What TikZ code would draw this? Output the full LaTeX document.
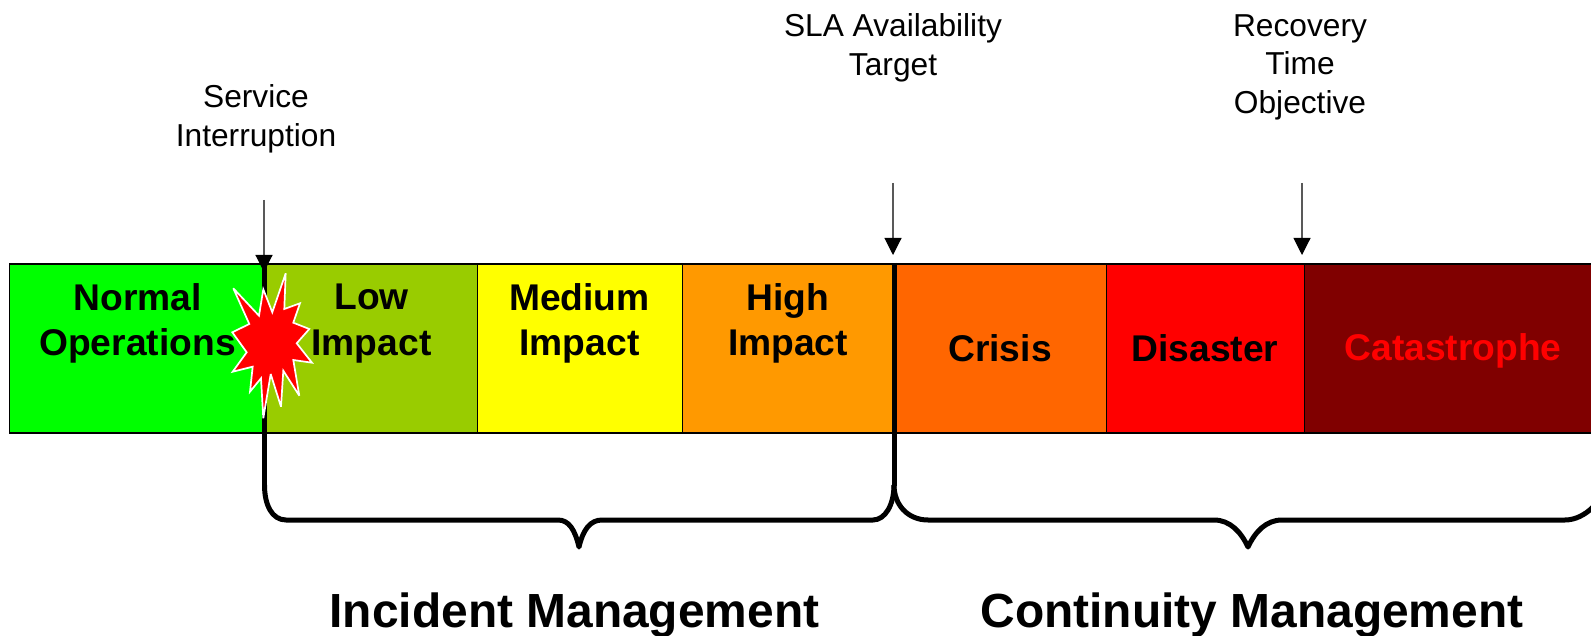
\documentclass[tikz,border=0pt]{standalone}
\usepackage{fontspec}
\setmainfont{Liberation Sans}
\usetikzlibrary{arrows.meta}
\definecolor{cGreen}{RGB}{0,255,0}
\definecolor{cLow}{RGB}{153,204,0}
\definecolor{cMed}{RGB}{255,255,0}
\definecolor{cHigh}{RGB}{255,153,0}
\definecolor{cCrisis}{RGB}{255,102,0}
\definecolor{cDis}{RGB}{255,0,0}
\definecolor{cCat}{RGB}{128,0,0}
\tikzset{
  seg/.style={draw=black,line width=1.8pt,anchor=north west,inner sep=0pt,minimum height=169pt,align=center,
    font=\fontsize{37.2}{45.6}\selectfont\bfseries},
  small/.style={align=center,inner sep=0pt,font=\fontsize{31.7}{38.6}\selectfont},
  title/.style={inner sep=0pt,font=\fontsize{47.9}{56}\selectfont\bfseries},
  pointer/.style={draw=black!65,line width=1.1pt,-{Triangle[length=17pt,width=17pt,black]}},
  thickbar/.style={line width=5pt,black},
  bracel/.style={line width=5pt,black,line join=round}
}
\begin{document}
\begin{tikzpicture}[x=1pt,y=-1pt]
\useasboundingbox (0,0) rectangle (1591,636);
\node[seg,fill=cGreen,minimum width=255pt] (normal) at (8.5,263) {};
\node[seg,fill=cLow,minimum width=213pt] (low) at (263.5,263) {};
\node[seg,fill=cMed,minimum width=205pt] (medium) at (476.5,263) {};
\node[seg,fill=cHigh,minimum width=212pt] (high) at (681.5,263) {};
\node[seg,fill=cCrisis,minimum width=212pt] (crisis) at (893.5,263) {};
\node[seg,fill=cDis,minimum width=198pt] (disaster) at (1105.5,263) {};
\node[seg,fill=cCat,minimum width=300pt] (cat) at (1303.5,263) {};
\node[seg,draw=none,anchor=center,minimum height=0pt] (tNormal) at (137.5,323.5) {Normal\\Operations};
\node[seg,draw=none,anchor=center,minimum height=0pt] (tLow) at (371.5,323.5) {Low\\Impact};
\node[seg,draw=none,anchor=center,minimum height=0pt] (tMed) at (579.5,323.5) {Medium\\Impact};
\node[seg,draw=none,anchor=center,minimum height=0pt] (tHigh) at (788,323.5) {High\\Impact};
\node[seg,draw=none,anchor=center,minimum height=0pt] (tCrisis) at (1000,348) {Crisis};
\node[seg,draw=none,anchor=center,minimum height=0pt] (tDis) at (1205,348) {Disaster};
\node[seg,draw=none,anchor=center,minimum height=0pt,text=cDis] (tCat) at (1453,351) {Catastrophe};
% pointers
\node[small] (service) at (256,119) {Service\\Interruption};
\node[small] (sla) at (893,48) {SLA Availability\\Target};
\node[small] (rto) at (1300,67) {Recovery\\Time\\Objective};
\coordinate (p1) at (264,200);
\coordinate (p2) at (893,183);
\coordinate (p3) at (1302,183);
\coordinate (p1e) at (264,272);
\coordinate (p2e) at (893,255);
\coordinate (p3e) at (1302,255);
\draw[pointer] (p1) -- (p1e);
\draw[pointer] (p2) -- (p2e);
\draw[pointer] (p3) -- (p3e);
% thick bars and braces
\coordinate (b1) at (264.5,263);
\coordinate (b2) at (894,263);
\coordinate (tip1) at (579,547);
\coordinate (tip2) at (1248,547);
\draw[thickbar] (b1) -- (264.5,486);
\draw[thickbar] (b2) -- (894,486);
\draw[bracel] (264.5,485) .. controls (264.5,505) and (272,520) .. (286,520) -- (558,520)
  .. controls (569,520) and (575,530) .. (tip1) .. controls (583,530) and (590,520) .. (602,520)
  -- (873,520) .. controls (885,520) and (894,505) .. (894,485);
\draw[bracel] (894,485) .. controls (894,505) and (908,520) .. (928,520) -- (1214,520)
  .. controls (1230,520) and (1241,532) .. (tip2) .. controls (1255,532) and (1266,520) .. (1282,520)
  -- (1565,520) .. controls (1575,520) and (1585,515) .. (1593,507);
% star
\draw[draw=white,fill=cDis,line width=1.7pt,miter limit=4] (233.3,288.3) -- (259,315.7) -- (263.3,289.3) -- (272.3,312.3) -- (285.7,273.3) -- (284.3,309) -- (300,303.3) -- (293.3,322.7) -- (309.3,329) -- (296.7,343.3) -- (312,362.7) -- (293.3,360) -- (299.3,395.7) -- (283.3,370.7) -- (281,406.7) -- (270.7,374) -- (263.3,418.3) -- (261,378.3) -- (250,391.7) -- (252.7,366.7) -- (232.7,371.7) -- (246.7,352.3) -- (232.3,332.3) -- (249.3,324) -- cycle;
\node[title] (im) at (574.5,615) {Incident Management};
\node[title] (cm) at (1252,615) {Continuity Management};
\end{tikzpicture}
\end{document}
